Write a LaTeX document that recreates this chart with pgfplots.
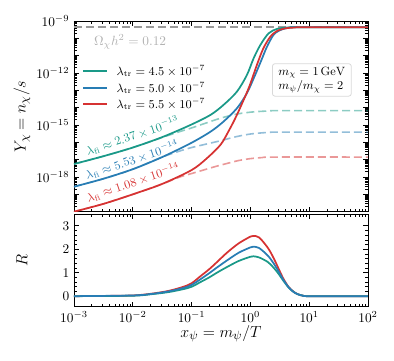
\documentclass[border=0pt]{standalone}
\usepackage{pgfplots}
\pgfplotsset{compat=1.18}

\definecolor{cgreen}{RGB}{26,153,136}
\definecolor{cblue}{RGB}{40,125,180}
\definecolor{cred}{RGB}{214,50,50}

\begin{document}
\begin{tikzpicture}
\path[use as bounding box] (0,0) rectangle (295.5pt,270.75pt);

% upper panel: yield
\begin{axis}[at={(55.5pt,112pt)}, anchor=south west,
  scale only axis, width=220.5pt, height=143pt,
  xmode=log, ymode=log, xmin=1e-3, xmax=1e2, ymin=1e-20, ymax=1e-9,
  tick align=inside, xtick pos=both, ytick pos=both,
  major tick length=3.5pt, minor tick length=2pt,
  tick style={black, line width=0.5pt},
  axis line style={line width=0.6pt},
  xtick={1e-3,1e-2,1e-1,1,1e1,1e2}, xticklabels={},
  ytick={1e-20,1e-19,1e-18,1e-17,1e-16,1e-15,1e-14,1e-13,1e-12,1e-11,1e-10,1e-9},
  yticklabels={,,$10^{-18}$,,,$10^{-15}$,,,$10^{-12}$,,,$10^{-9}$},
  ylabel={$Y_\chi = n_\chi/s$},
  ylabel style={at={(axis description cs:-0.177,0.5)}, anchor=center, font=\fontsize{12.5}{15}\selectfont},
  legend style={draw=none, fill=none, at={(axis description cs:0.028,0.78)},
    anchor=north west, inner sep=0pt, column sep=4.5pt, row sep=0pt,
    nodes={inner sep=1.6pt}, font=\small},
  legend cell align=left,
  legend image code/.code={\draw[#1, line width=1.5pt] (0pt,0.25pt) -- (18pt,0.25pt);},
]
\addplot[forget plot, gray!80, line width=1.2pt, dash pattern=on 6pt off 3pt]
  coordinates {(1e-3,4.4e-10) (1e2,4.4e-10)};

% freeze-in only (dashed)
\addplot[forget plot, cgreen, opacity=0.5, line width=1.2pt, dash pattern=on 6pt off 3pt, smooth]
  coordinates {(1e-3,5.623e-18) (3.162e-3,1.585e-17) (1e-2,5.012e-17) (3.162e-2,1.905e-16)
  (6.31e-2,4.169e-16) (0.1,6.761e-16) (0.1778,1.318e-15) (0.3162,2.512e-15) (0.5623,4.169e-15)
  (1,5.495e-15) (1.778,6.31e-15) (3.162,6.761e-15) (100,6.761e-15)};
\addplot[forget plot, cblue, opacity=0.5, line width=1.2pt, dash pattern=on 6pt off 3pt, smooth]
  coordinates {(1e-3,2.754e-19) (3.162e-3,7.943e-19) (1e-2,2.818e-18) (3.162e-2,1.413e-17)
  (6.31e-2,3.162e-17) (0.1,5.012e-17) (0.1778,7.943e-17) (0.3162,1.259e-16) (0.5623,2.089e-16)
  (1,3.02e-16) (1.778,3.631e-16) (3.162,3.89e-16) (100,3.89e-16)};
\addplot[forget plot, cred, opacity=0.5, line width=1.2pt, dash pattern=on 6pt off 3pt, smooth]
  coordinates {(1e-3,1e-20) (3.162e-3,2.818e-20) (1e-2,1e-19) (3.162e-2,3.981e-19)
  (6.31e-2,1e-18) (0.1,1.585e-18) (0.1585,2.512e-18) (0.2512,3.981e-18) (0.3981,6.026e-18)
  (0.631,8.913e-18) (1,1.148e-17) (1.585,1.318e-17) (2.512,1.413e-17) (100,1.413e-17)};

% full solution (solid)
\addplot[cgreen, line width=1.3pt, smooth]
  coordinates {(1e-3,5.623e-18) (3.162e-3,1.585e-17) (1e-2,5.012e-17) (3.162e-2,1.995e-16)
  (0.0955,1e-15) (0.2089,3.802e-15) (0.3467,1.413e-14) (0.5888,8.318e-14) (0.871,7.586e-13)
  (1.135,7.079e-12) (1.479,4.169e-11) (2.042,1.95e-10) (2.818,3.467e-10) (4.169,4.169e-10)
  (6.31,4.365e-10) (100,4.365e-10)};
\addlegendentry{$\lambda_{\rm tr} = 4.5\times10^{-7}$}
\addplot[cblue, line width=1.3pt, smooth]
  coordinates {(1e-3,2.754e-19) (3.162e-3,7.943e-19) (1e-2,2.818e-18) (3.162e-2,1.413e-17)
  (0.0955,8.71e-17) (0.2089,4.074e-16) (0.3467,1.549e-15) (0.5888,9.12e-15) (0.871,6.761e-14)
  (1.202,7.586e-13) (1.585,7.079e-12) (1.905,3.162e-11) (2.512,1.698e-10) (3.467,3.311e-10)
  (4.786,4.169e-10) (7.079,4.365e-10) (100,4.365e-10)};
\addlegendentry{$\lambda_{\rm tr} = 5.0\times10^{-7}$}
\addplot[cred, line width=1.3pt, smooth]
  coordinates {(1e-3,1e-20) (3.162e-3,2.818e-20) (1e-2,1e-19) (3.162e-2,3.981e-19)
  (0.1,2.512e-18) (0.1778,1.122e-17) (0.309,7.079e-17) (0.4266,4.467e-16) (0.5888,3.802e-15)
  (0.9333,1.318e-13) (1.288,2.884e-12) (1.66,2.63e-11) (2.188,1.259e-10) (2.818,2.63e-10)
  (3.981,3.802e-10) (5.495,4.169e-10) (7.943,4.365e-10) (100,4.365e-10)};
\addlegendentry{$\lambda_{\rm tr} = 5.5\times10^{-7}$}

\node[text=gray!60] at (axis cs:9.0e-3,6.17e-11) {$\Omega_\chi h^2 = 0.12$};
\node[text=cgreen, rotate=18.5, font=\small] at (axis cs:9.9e-3,2.37e-16) {$\lambda_{\rm fi} \approx 2.37\times10^{-13}$};
\node[text=cblue, rotate=18.5, font=\small] at (axis cs:9.7e-3,9.7e-18) {$\lambda_{\rm fi} \approx 5.53\times10^{-14}$};
\node[text=cred, rotate=18.5, font=\small] at (axis cs:1.01e-2,4.86e-19) {$\lambda_{\rm fi} \approx 1.08\times10^{-14}$};
\node[draw=gray!30, line width=0.6pt, rounded corners=2pt, fill=white, align=left,
  inner xsep=4.5pt, inner ysep=2.5pt, font=\small]
  at (axis cs:11.1,3.98e-13) {$m_\chi = 1\,\mathrm{GeV}$\\$m_\psi/m_\chi = 2$};
\end{axis}

% lower panel: ratio
\begin{axis}[at={(55.5pt,40.7pt)}, anchor=south west,
  scale only axis, width=220.5pt, height=69.5pt,
  xmode=log, xmin=1e-3, xmax=1e2, ymin=-0.45, ymax=3.5,
  tick align=inside, xtick pos=both, ytick pos=both,
  major tick length=3.5pt, minor tick length=2pt,
  tick style={black, line width=0.5pt},
  axis line style={line width=0.6pt},
  xtick={1e-3,1e-2,1e-1,1,1e1,1e2},
  ytick={0,1,2,3}, minor y tick num=4,
  xlabel={$x_\psi = m_\psi/T$}, ylabel={$R$},
  xlabel style={at={(axis description cs:0.5,-0.29)}, anchor=center, font=\fontsize{12.5}{15}\selectfont},
  ylabel style={at={(axis description cs:-0.177,0.5)}, anchor=center, font=\fontsize{12.5}{15}\selectfont},
]
\addplot[cred, line width=1.3pt, smooth]
  coordinates {(1e-3,0) (3.162e-3,0.01) (1e-2,0.03) (0.01995,0.1) (0.03981,0.22) (0.07244,0.4)
  (0.1,0.55) (0.1413,0.85) (0.1995,1.15) (0.2692,1.45) (0.3981,1.85) (0.631,2.25) (1,2.54)
  (1.122,2.57) (1.413,2.5) (1.995,2.05) (2.512,1.6) (3.02,1.17) (3.631,0.75) (4.467,0.39)
  (5.495,0.18) (6.607,0.07) (7.943,0.02) (10,0) (100,0)};
\addplot[cgreen, line width=1.3pt, smooth]
  coordinates {(1e-3,0) (1e-2,0.02) (0.01995,0.08) (0.03981,0.17) (0.07244,0.3) (0.1,0.4)
  (0.1413,0.6) (0.1995,0.8) (0.2692,1.0) (0.3981,1.24) (0.631,1.5) (1,1.68) (1.122,1.7)
  (1.413,1.65) (1.995,1.45) (2.512,1.2) (3.02,0.95) (3.631,0.66) (4.467,0.37) (5.495,0.17)
  (6.607,0.07) (7.943,0.02) (10,0) (100,0)};
\addplot[cblue, line width=1.3pt, smooth]
  coordinates {(1e-3,0) (1e-2,0.03) (0.01995,0.09) (0.03981,0.2) (0.07244,0.35) (0.1,0.48)
  (0.1413,0.72) (0.1995,0.98) (0.2692,1.22) (0.3981,1.52) (0.631,1.85) (1,2.08) (1.122,2.11)
  (1.413,2.05) (1.995,1.72) (2.512,1.38) (3.02,1.05) (3.631,0.7) (4.467,0.38) (5.495,0.17)
  (6.607,0.07) (7.943,0.02) (10,0) (100,0)};
\end{axis}
\end{tikzpicture}
\end{document}
